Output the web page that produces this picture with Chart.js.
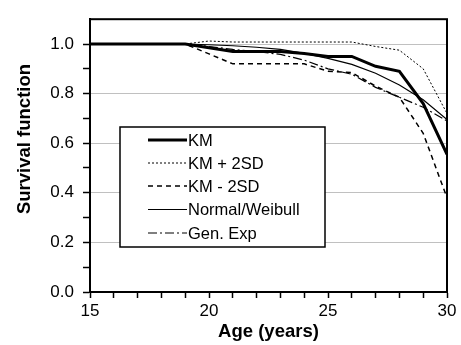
<!DOCTYPE html>
<html>
<head>
<meta charset="utf-8">
<script src="https://cdn.jsdelivr.net/npm/chart.js@4.4.1/dist/chart.umd.min.js"></script>
<style>
  body { margin: 0; background: #fff; }
  canvas { display: block; }
</style>
</head>
<body>
<canvas id="survival-chart" width="461" height="345"></canvas>
<script>
// 年龄 (years)
const ages = [15, 16, 17, 18, 19, 20, 21, 22, 23, 24, 25, 26, 27, 28, 29, 30];

// 各条曲线的数值
const km          = [1, 1, 1, 1, 1, 0.985, 0.97, 0.97, 0.97, 0.962, 0.95, 0.95, 0.91, 0.89, 0.76, 0.555];
const kmPlus2sd   = [1, 1, 1, 1, 1, 1.012, 1.008, 1.008, 1.008, 1.008, 1.008, 1.008, 0.99, 0.975, 0.90, 0.72];
const kmMinus2sd  = [1, 1, 1, 1, 1, 0.96, 0.92, 0.92, 0.92, 0.92, 0.89, 0.885, 0.83, 0.785, 0.64, 0.38];
const normWeibull = [1, 1, 1, 1, 1, 0.997, 0.993, 0.987, 0.978, 0.962, 0.942, 0.918, 0.882, 0.835, 0.775, 0.695];
const genExp      = [1, 1, 1, 1, 1, 0.99, 0.978, 0.97, 0.958, 0.935, 0.9, 0.878, 0.825, 0.785, 0.745, 0.69];

const seriesLabels = ['KM', 'KM + 2SD', 'KM - 2SD', 'Normal/Weibull', 'Gen. Exp'];
const xTickLabels = [15, 20, 25, 30];
const yTickLabels = [0, 0.2, 0.4, 0.6, 0.8, 1.0];

const FONT = "'Liberation Sans', Arial, sans-serif";

function toPoints(values) {
    return values.map((v, i) => ({ x: ages[i], y: v }));
}

// 图框 (上边和右边) + 纵轴标题
const framePlugin = {
    id: 'frame',
    afterDatasetsDraw(chart) {
        const { ctx, chartArea } = chart;
        ctx.save();
        ctx.strokeStyle = '#000';
        ctx.lineWidth = 2;
        ctx.strokeRect(chartArea.left, chartArea.top, chartArea.right - chartArea.left, chartArea.bottom - chartArea.top);

        // 纵轴标题 (原图中略偏上)
        ctx.translate(25, 139);
        ctx.rotate(-Math.PI / 2);
        ctx.fillStyle = '#000';
        ctx.font = 'bold 18.5px ' + FONT;
        ctx.textAlign = 'center';
        ctx.textBaseline = 'middle';
        ctx.fillText('Survival function', 0, 0);
        ctx.restore();
    }
};

// 图例 (在图内部画)
const boxLegendPlugin = {
    id: 'boxLegend',
    afterDraw(chart) {
        const { ctx } = chart;
        const box = { x: 120, y: 127, w: 205, h: 120 };
        ctx.save();
        ctx.fillStyle = '#fff';
        ctx.fillRect(box.x, box.y, box.w, box.h);
        ctx.strokeStyle = '#000';
        ctx.lineWidth = 1.5;
        ctx.strokeRect(box.x, box.y, box.w, box.h);

        const rows = [140, 163, 186, 209.5, 233];
        chart.data.datasets.forEach((ds, i) => {
            const y = rows[i];
            ctx.beginPath();
            ctx.setLineDash(ds.borderDash || []);
            ctx.lineWidth = ds.borderWidth;
            ctx.strokeStyle = ds.borderColor;
            ctx.moveTo(148, y);
            ctx.lineTo(187, y);
            ctx.stroke();
            ctx.setLineDash([]);
            ctx.fillStyle = '#000';
            ctx.font = '16.5px ' + FONT;
            ctx.textBaseline = 'middle';
            ctx.textAlign = 'left';
            ctx.fillText(ds.label, 188, y + 1);
        });
        ctx.restore();
    }
};

const data = {
    datasets: [
        {
            label: seriesLabels[0],
            data: toPoints(km),
            borderColor: '#000',
            borderWidth: 3
        },
        {
            label: seriesLabels[1],
            data: toPoints(kmPlus2sd),
            borderColor: '#000',
            borderWidth: 1,
            borderDash: [2, 2]
        },
        {
            label: seriesLabels[2],
            data: toPoints(kmMinus2sd),
            borderColor: '#000',
            borderWidth: 1.5,
            borderDash: [5, 4]
        },
        {
            label: seriesLabels[3],
            data: toPoints(normWeibull),
            borderColor: '#000',
            borderWidth: 1.2
        },
        {
            label: seriesLabels[4],
            data: toPoints(genExp),
            borderColor: '#000',
            borderWidth: 1.2,
            borderDash: [9, 3, 2, 3]
        }
    ]
};

const options = {
    responsive: false,
    animation: false,
    layout: {
        padding: { top: 13, right: 14, left: 0, bottom: 0 }
    },
    elements: {
        point: { radius: 0 },
        line: { tension: 0, fill: false }
    },
    scales: {
        x: {
            type: 'linear',
            min: 15,
            max: 30,
            afterFit: scale => { scale.height = 53; },
            afterBuildTicks: scale => {
                scale.ticks = ages.map(v => ({ value: v }));
            },
            border: { display: true, color: '#000', width: 2 },
            grid: {
                drawOnChartArea: false,
                tickLength: 6,
                tickWidth: 1.5,
                tickColor: '#000'
            },
            ticks: {
                autoSkip: false,
                maxRotation: 0,
                padding: 3,
                color: '#000',
                font: { family: FONT, size: 17 },
                callback: v => xTickLabels.includes(v) ? String(v) : ''
            },
            title: {
                display: true,
                text: 'Age (years)',
                color: '#000',
                font: { family: FONT, size: 18.5, weight: 'bold' },
                padding: { top: 0, bottom: 2 }
            }
        },
        y: {
            min: 0,
            max: 1.1,
            afterFit: scale => { scale.width = 90; },
            afterBuildTicks: scale => {
                const t = [];
                for (let i = 0; i <= 10; i++) t.push({ value: i / 10 });
                scale.ticks = t;
            },
            border: { display: true, color: '#000', width: 2 },
            grid: {
                tickLength: 7,
                tickWidth: 1.5,
                tickColor: '#000',
                lineWidth: 1,
                color: ctx => {
                    const v = Math.round(ctx.tick.value * 10);
                    return (v > 0 && v % 2 === 0) ? '#c0c0c0' : 'rgba(0,0,0,0)';
                }
            },
            ticks: {
                padding: 9,
                color: '#000',
                font: { family: FONT, size: 17 },
                callback: v => {
                    const r = Math.round(v * 10) / 10;
                    return yTickLabels.includes(r) ? r.toFixed(1) : '';
                }
            },
            title: { display: false }
        }
    },
    plugins: {
        legend: { display: false },
        tooltip: { enabled: false }
    }
};

window.survivalChart = new Chart(document.getElementById('survival-chart'), {
    type: 'line',
    data: data,
    options: options,
    plugins: [framePlugin, boxLegendPlugin]
});
</script>
</body>
</html>
